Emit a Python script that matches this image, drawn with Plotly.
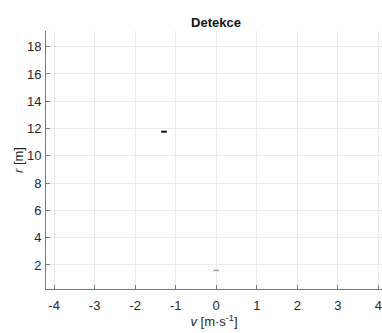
import plotly.graph_objects as go

# detections: velocity [m/s], range [m]
v_main = [-1.29]
r_main = [11.77]
v_weak = [0.0]
r_weak = [1.6]

x_ticks = [-4, -3, -2, -1, 0, 1, 2, 3, 4]
y_ticks = [2, 4, 6, 8, 10, 12, 14, 16, 18]

FONT = "Liberation Sans, Arial, sans-serif"

fig = go.Figure()
fig.add_trace(go.Scatter(x=v_weak, y=r_weak, mode="markers",
                         marker=dict(symbol="line-ew", size=4, line=dict(width=1.5, color="#a0a0a0")),
                         showlegend=False))
fig.add_trace(go.Scatter(x=v_main, y=r_main, mode="markers",
                         marker=dict(symbol="line-ew", size=4, line=dict(width=2, color="#111111")),
                         showlegend=False))

axis_common = dict(showgrid=True, gridcolor="#ebebeb", gridwidth=1, zeroline=False,
                   showline=True, linecolor="#7a7a7a", linewidth=1,
                   ticks="inside", ticklen=4, tickcolor="#7a7a7a",
                   ticklabeloverflow="allow",
                   tickfont=dict(family=FONT, size=13, color="#262626"))

fig.update_layout(
    width=382, height=333,
    margin=dict(l=46, r=0, t=31, b=44),
    paper_bgcolor="white", plot_bgcolor="white",
    title=dict(text="<b>Detekce</b>", x=(216 / 382), xanchor="center", y=1 - 22 / 333, yanchor="middle",
               font=dict(family=FONT, size=13, color="#111111")),
    xaxis=dict(range=[-4.2, 4.09], tickvals=x_ticks, ticktext=[str(t) for t in x_ticks],
               ticklabelstandoff=4,
               title=dict(text="<i>v</i> [m·s<sup>-1</sup>]", standoff=4,
                          font=dict(family=FONT, size=13, color="#262626")),
               **axis_common),
    yaxis=dict(range=[0.24, 19.15], tickvals=y_ticks, ticktext=[str(t) for t in y_ticks],
               ticklabelstandoff=1,
               title=dict(text="<i>r</i> [m]", standoff=0,
                          font=dict(family=FONT, size=13, color="#262626")),
               **axis_common),
)

fig.write_html("out.html")
